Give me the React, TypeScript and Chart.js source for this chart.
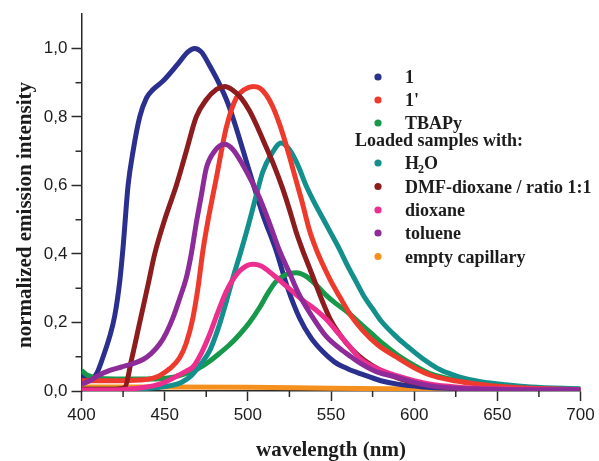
import { useEffect, useRef } from 'react';
import { Chart, registerables } from 'chart.js';

Chart.register(...registerables);

// ---- data (wavelength in nm, normalized intensity) ----
const wl1 = [400, 404, 409, 413, 417, 420, 423, 425, 428, 431, 435, 439, 443, 449, 458, 464, 468, 472, 477, 483, 488, 493, 501, 509, 517, 524, 531, 538, 545, 552, 560, 568, 580, 590, 605, 620, 650, 700];
const int1 = [0.05, 0.03, 0.05, 0.10, 0.16, 0.22, 0.32, 0.42, 0.60, 0.70, 0.80, 0.855, 0.88, 0.905, 0.955, 0.99, 1.0, 0.99, 0.95, 0.895, 0.84, 0.768, 0.64, 0.515, 0.41, 0.30, 0.214, 0.155, 0.115, 0.085, 0.065, 0.05, 0.03, 0.02, 0.012, 0.008, 0.004, 0.002];

const wl1p = [400, 420, 435, 442, 447, 453, 459, 463, 467, 470, 473, 476, 481, 487, 493, 498, 503, 507, 511, 515, 519, 522, 525, 529, 533, 537, 541, 545, 550, 555, 562, 569, 578, 589, 600, 610, 622, 634, 650, 670, 700];
const int1p = [0.03, 0.03, 0.032, 0.036, 0.045, 0.065, 0.097, 0.14, 0.214, 0.30, 0.41, 0.496, 0.62, 0.768, 0.855, 0.88, 0.889, 0.885, 0.865, 0.83, 0.78, 0.735, 0.685, 0.615, 0.545, 0.47, 0.415, 0.37, 0.32, 0.277, 0.22, 0.177, 0.135, 0.1, 0.068, 0.046, 0.032, 0.023, 0.014, 0.008, 0.004];

const wlTbapy = [400, 404, 410, 420, 440, 455, 465, 470, 477, 483, 489, 495, 501, 507, 512, 517, 523, 529, 535, 541, 547, 553, 560, 567, 575, 582, 590, 600, 610, 622, 634, 650, 670, 700];
const intTbapy = [0.06, 0.045, 0.037, 0.035, 0.035, 0.04, 0.055, 0.065, 0.087, 0.11, 0.135, 0.165, 0.2, 0.243, 0.285, 0.32, 0.34, 0.345, 0.335, 0.31, 0.28, 0.255, 0.23, 0.2, 0.165, 0.135, 0.105, 0.075, 0.05, 0.035, 0.024, 0.014, 0.008, 0.005];

const wlH2O = [400, 430, 445, 455, 460, 466, 472, 477, 482, 487, 491, 496, 501, 505, 509, 514, 520, 525, 530, 535, 540, 545, 550, 555, 560, 565, 570, 575, 580, 590, 596, 605, 616, 628, 640, 655, 670, 700];
const intH2O = [0.005, 0.005, 0.01, 0.017, 0.025, 0.045, 0.08, 0.117, 0.18, 0.26, 0.33, 0.41, 0.496, 0.57, 0.64, 0.69, 0.724, 0.705, 0.66, 0.6, 0.55, 0.505, 0.46, 0.415, 0.365, 0.32, 0.275, 0.24, 0.205, 0.155, 0.13, 0.095, 0.061, 0.04, 0.027, 0.018, 0.012, 0.006];

const wlDmf = [400, 420, 426, 430, 435, 440, 444, 450, 457, 463, 469, 475, 481, 486, 491, 496, 501, 506, 511, 516, 521, 525, 529, 533, 537, 541, 545, 550, 556, 563, 570, 580, 592, 605, 620, 640, 670, 700];
const intDmf = [0.005, 0.005, 0.01, 0.09, 0.2, 0.31, 0.4, 0.5, 0.6, 0.7, 0.8, 0.85, 0.88, 0.889, 0.878, 0.855, 0.818, 0.768, 0.712, 0.655, 0.59, 0.53, 0.465, 0.41, 0.36, 0.31, 0.26, 0.205, 0.16, 0.12, 0.09, 0.06, 0.035, 0.02, 0.01, 0.006, 0.004, 0.003];

const wlDiox = [400, 420, 430, 437, 443, 447, 452, 458, 463, 467, 472, 477, 482, 487, 491, 495, 499, 503, 508, 515, 521, 527, 533, 540, 547, 555, 562, 568, 578, 590, 600, 610, 625, 640, 670, 700];
const intDiox = [0.003, 0.003, 0.006, 0.01, 0.015, 0.02, 0.03, 0.045, 0.058, 0.07, 0.11, 0.165, 0.23, 0.29, 0.325, 0.35, 0.365, 0.37, 0.365, 0.34, 0.315, 0.29, 0.265, 0.24, 0.21, 0.165, 0.125, 0.092, 0.065, 0.044, 0.03, 0.02, 0.012, 0.008, 0.005, 0.004];

const wlTol = [400, 405, 410, 417, 424, 431, 437, 442, 447, 451, 455, 459, 463, 466, 469, 472, 475, 480, 486, 491, 497, 502, 507, 513, 519, 525, 531, 539, 547, 555, 562, 568, 578, 590, 600, 610, 625, 640, 670, 700];
const intTol = [0.02, 0.03, 0.045, 0.06, 0.07, 0.08, 0.092, 0.11, 0.137, 0.17, 0.214, 0.27, 0.33, 0.4, 0.49, 0.57, 0.65, 0.7, 0.72, 0.705, 0.66, 0.615, 0.564, 0.49, 0.41, 0.345, 0.28, 0.215, 0.16, 0.125, 0.1, 0.08, 0.055, 0.04, 0.025, 0.015, 0.008, 0.006, 0.004, 0.004];

const wlEmpty = [400, 450, 500, 550, 600, 650, 700];
const intEmpty = [0.012, 0.012, 0.011, 0.008, 0.006, 0.005, 0.004];

const xMinorTicks = [425, 475, 525, 575, 625, 675];
const yMinorTicks = [0.1, 0.3, 0.5, 0.7, 0.9];

const xTitle = 'wavelength (nm)';
const yTitle = 'normalized emission intensity';
const legendHeader = 'Loaded samples with:';

const C_BLUE = '#2b2f8e';
const C_RED = '#ee3a2c';
const C_GREEN = '#17994c';
const C_TEAL = '#138f8c';
const C_DMF = '#8c1c1d';
const C_PINK = '#ec2f8e';
const C_PURPLE = '#8d2b98';
const C_ORANGE = '#f5901f';

const seriesList = [
  { label: '1', wl: wl1, val: int1, color: C_BLUE, order: 6 },
  { label: "1'", wl: wl1p, val: int1p, color: C_RED, order: 3 },
  { label: 'TBAPy', wl: wlTbapy, val: intTbapy, color: C_GREEN, order: 5 },
  { label: 'H2O', wl: wlH2O, val: intH2O, color: C_TEAL, order: 4 },
  { label: 'DMF-dioxane / ratio 1:1', wl: wlDmf, val: intDmf, color: C_DMF, order: 2 },
  { label: 'dioxane', wl: wlDiox, val: intDiox, color: C_PINK, order: 1 },
  { label: 'toluene', wl: wlTol, val: intTol, color: C_PURPLE, order: 0 },
  { label: 'empty capillary', wl: wlEmpty, val: intEmpty, color: C_ORANGE, order: 7 },
];

const AXIS = '#2a2a2a';
const TEXT = '#1c1c1c';

const overlayPlugin = {
  id: 'overlay',
  afterDraw(chart: any) {
    const ctx = chart.ctx as CanvasRenderingContext2D;
    const xs = chart.scales.x;
    const ys = chart.scales.y;
    const area = chart.chartArea;
    ctx.save();
    // minor ticks
    ctx.strokeStyle = AXIS;
    ctx.lineWidth = 1.5;
    for (const v of xMinorTicks) {
      const px = xs.getPixelForValue(v);
      ctx.beginPath();
      ctx.moveTo(px, area.bottom);
      ctx.lineTo(px, area.bottom + 6);
      ctx.stroke();
    }
    for (const v of yMinorTicks) {
      const py = ys.getPixelForValue(v);
      ctx.beginPath();
      ctx.moveTo(area.left, py);
      ctx.lineTo(area.left - 6, py);
      ctx.stroke();
    }
    // axis titles
    ctx.fillStyle = TEXT;
    ctx.font = 'bold 21px "Liberation Serif"';
    ctx.textAlign = 'center';
    ctx.textBaseline = 'alphabetic';
    ctx.fillText(xTitle, (area.left + area.right) / 2, 456);
    ctx.save();
    ctx.translate(31, 215);
    ctx.rotate(-Math.PI / 2);
    ctx.fillText(yTitle, 0, 0);
    ctx.restore();

    // legend
    const dotX = 378;
    const textX = 405;
    const rows = [83, 106, 129, 169, 192.5, 216, 239, 262.5];
    ctx.textAlign = 'left';
    seriesList.forEach((s, i) => {
      const base = rows[i];
      ctx.fillStyle = s.color;
      ctx.beginPath();
      ctx.arc(dotX, base - 6, 3.6, 0, Math.PI * 2);
      ctx.fill();
      ctx.fillStyle = TEXT;
      if (s.label === 'H2O') {
        ctx.font = 'bold 18px "Liberation Serif"';
        ctx.fillText('H', textX, base);
        const wH = ctx.measureText('H').width;
        ctx.font = 'bold 12px "Liberation Serif"';
        ctx.fillText('2', textX + wH - 1, base + 4);
        const w2 = ctx.measureText('2').width;
        ctx.font = 'bold 18px "Liberation Serif"';
        ctx.fillText('O', textX + wH + w2 - 1, base);
      } else {
        ctx.font = 'bold 18px "Liberation Serif"';
        ctx.fillText(s.label, textX, base);
      }
    });
    ctx.font = 'bold 18px "Liberation Serif"';
    ctx.fillStyle = TEXT;
    ctx.fillText(legendHeader, 355, 146);
    ctx.restore();
  },
};

export default function App() {
  const ref = useRef<HTMLCanvasElement | null>(null);
  useEffect(() => {
    document.body.style.margin = '0';
    const canvas = ref.current;
    if (!canvas) return;
    const chart = new Chart(canvas, {
      type: 'line',
      data: {
        datasets: seriesList.map((s) => ({
          label: s.label,
          data: s.wl.map((x, i) => ({ x, y: s.val[i] })),
          borderColor: s.color,
          backgroundColor: s.color,
          borderWidth: 5,
          pointRadius: 0,
          fill: false,
          cubicInterpolationMode: 'monotone' as const,
          borderJoinStyle: 'round' as const,
          order: s.order,
        })),
      },
      options: {
        animation: false,
        responsive: false,
        maintainAspectRatio: false,
        layout: { padding: { top: 12, right: 18.5, left: 0, bottom: 0 } },
        plugins: {
          legend: { display: false },
          tooltip: { enabled: false },
          title: { display: false },
        },
        scales: {
          x: {
            type: 'linear',
            min: 400,
            max: 700,
            afterFit: (scale: any) => {
              scale.height = 70;
            },
            ticks: {
              stepSize: 50,
              color: TEXT,
              padding: 4,
              font: { family: '"Liberation Sans"', size: 17 },
            },
            grid: {
              drawOnChartArea: false,
              drawTicks: true,
              tickLength: 10,
              tickWidth: 1.5,
              tickColor: AXIS,
            },
            border: { display: true, color: AXIS, width: 1.5 },
          },
          y: {
            type: 'linear',
            min: 0,
            max: 1.1,
            afterFit: (scale: any) => {
              scale.width = 81.5;
            },
            ticks: {
              stepSize: 0.2,
              includeBounds: false,
              color: TEXT,
              padding: 4,
              font: { family: '"Liberation Sans"', size: 17 },
              callback: (v: any) => Number(v).toFixed(1).replace('.', ','),
            },
            grid: {
              drawOnChartArea: false,
              drawTicks: true,
              tickLength: 10,
              tickWidth: 1.5,
              tickColor: AXIS,
            },
            border: { display: true, color: AXIS, width: 1.5 },
          },
        },
      },
      plugins: [overlayPlugin],
    });
    return () => chart.destroy();
  }, []);
  return (
    <div style={{ width: 599, height: 461, background: '#fff' }}>
      <canvas ref={ref} width={599} height={461} style={{ width: 599, height: 461, display: 'block' }} />
    </div>
  );
}
